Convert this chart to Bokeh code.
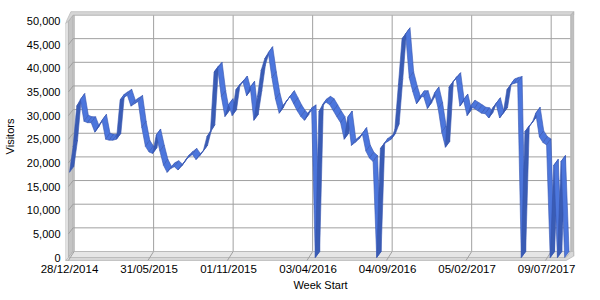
from bokeh.plotting import figure
from bokeh.models import FixedTicker, NumeralTickFormatter, Range1d
from bokeh.embed import file_html
from bokeh.resources import INLINE

# ---- data ----
weeks = list(range(138))
visitors = [
    18000, 23500, 32000, 33400, 28800, 28500, 28500, 26500, 27800, 29000,
    25000, 24800, 24800, 25000, 33300, 33800, 34300, 32000, 32500, 33000,
    27500, 23500, 22300, 22000, 25900, 22500, 19500, 18000, 18800, 19200,
    18500, 19300, 20500, 21200, 21800, 20700, 21500, 22500, 25500, 26800,
    39200, 40000, 34000, 29800, 32300, 30000, 35400, 36200, 37100, 34200,
    36000, 29000, 34000, 39500, 42000, 43300, 38000, 33500, 30500, 32000,
    33000, 34000, 32500, 31000, 29800, 29000, 30500, 31000, 0, 30800,
    32300, 32800, 32300, 31000, 29700, 28500, 25000, 29700, 23700, 24300,
    25000, 26200, 22500, 21000, 20300, 0, 23000, 24000, 24500, 25000,
    27000, 36500, 46200, 47300, 38000, 35000, 32500, 34000, 34000, 31500,
    33000, 34800, 31500, 26500, 23300, 36000, 37000, 37800, 32000, 33300,
    30000, 32000, 31500, 31000, 30500, 30400, 29500, 31500, 32500, 29500,
    30500, 35400, 36500, 36800, 37000, 0, 26600, 27500, 28500, 30500,
    25500, 24300, 23800, 0, 19500, 0, 20300, 0,
]
x_tick_weeks = [0, 22, 44, 66, 88, 110, 132]
x_tick_labels = ["28/12/2014", "31/05/2015", "01/11/2015", "03/04/2016",
                 "04/09/2016", "05/02/2017", "09/07/2017"]
y_ticks = list(range(0, 50001, 5000))

# ---- geometry (data units) ----
PXW = 3.614          # px per week
PXV = 0.00473        # px per visitor
DW, DV = 4.6 / PXW, 6.0 / PXV      # depth offset of back wall
RW, RV = 4.4 / PXW, 6.0 / PXV      # depth of ribbon
WL, WR = -0.28, 137.4              # front left / right of plot
VTOP = 50000

p = figure(width=600, height=300, output_backend="svg", toolbar_location=None,
           x_range=Range1d(-1.107, 140.0), y_range=Range1d(-1057, 52220),
           min_border_left=65, min_border_right=25, min_border_top=10,
           min_border_bottom=38)
p.outline_line_color = None
p.xgrid.visible = False
p.ygrid.visible = False
p.background_fill_color = "white"
p.border_fill_color = "white"

# back wall
p.patch([WL + DW, WR + DW, WR + DW, WL + DW],
        [DV, DV, VTOP + DV, VTOP + DV], fill_color="white", line_color=None)
p.multi_line([[WL + DW, WR + DW] for _ in y_ticks],
             [[t + DV, t + DV] for t in y_ticks], line_color="#a0a0a0", line_width=1)
# left side wall
p.patch([WL, WL, WL + DW, WL + DW], [0, VTOP, VTOP + DV, DV],
        fill_color="#c4c4c4", line_color="#a8a8a8", line_width=0.8)
p.patch([WL - 0.83, WL - 0.83, WL, WL], [-630, VTOP - 500, VTOP, -630],
        fill_color="#e2e2e2", line_color="#b0b0b0", line_width=0.8)
p.multi_line([[WL, WL + DW] for _ in y_ticks],
             [[t, t + DV] for t in y_ticks], line_color="#a0a0a0", line_width=1)
# vertical gridlines
p.multi_line([[t + DW, t + DW] for t in x_tick_weeks],
             [[DV, VTOP + DV] for _ in x_tick_weeks], line_color="#a0a0a0", line_width=1)
# top edge and right edge of back wall
p.patch([WL - 0.83, WL + DW - 0.6, WR + DW + 0.83, WR + DW + 0.83, WL + DW, WL],
        [VTOP - 500, VTOP + DV + 700, VTOP + DV + 700, VTOP + DV, VTOP + DV, VTOP],
        fill_color="#d6d6d6", line_color="#bdbdbd", line_width=0.8)
p.patch([WR + DW, WR + DW + 0.83, WR + DW + 0.83, WR + DW],
        [DV, 300, VTOP + DV + 700, VTOP + DV],
        fill_color="#c0c0c0", line_color="#b0b0b0", line_width=0.8)
# floor
p.patch([WL, WR, WR + DW, WL + DW], [0, 0, DV, DV],
        fill_color="#e6e6e6", line_color="#b8b8b8", line_width=0.8)
p.patch([WL - 0.83, WR, WR + DW + 0.83, WR + DW + 0.83, WR + DW, WR, WL],
        [-630, -630, 300, DV, DV, 0, 0],
        fill_color="#d8d8d8", line_color="#b8b8b8", line_width=0.8)
p.multi_line([[t - 0.3, t + DW] for t in x_tick_weeks],
             [[-630, DV] for _ in x_tick_weeks], line_color="#a0a0a0", line_width=1)

# ribbon
xs, ys, cols = [], [], []
for i in range(len(weeks) - 1):
    w0, w1 = weeks[i], weeks[i + 1]
    v0, v1 = visitors[i], visitors[i + 1]
    xs.append([w0, w1, w1 + RW, w0 + RW])
    ys.append([v0, v1, v1 + RV, v0 + RV])
    cross = 6.0 * (w1 - w0) * PXW - 4.4 * (v1 - v0) * PXV
    cols.append("#4c76dc" if cross > 0 else "#3a5cb4")
p.patches(xs, ys, fill_color=cols, line_color="#3756b0", line_width=0.6)

# axes
font = "Liberation Sans"
p.yaxis.ticker = FixedTicker(ticks=y_ticks)
p.yaxis.formatter = NumeralTickFormatter(format="0,0")
p.xaxis.ticker = FixedTicker(ticks=x_tick_weeks)
p.xaxis.major_label_overrides = {w: s for w, s in zip(x_tick_weeks, x_tick_labels)}
for ax in (p.xaxis, p.yaxis):
    ax.axis_line_color = None
    ax.major_tick_line_color = None
    ax.minor_tick_line_color = None
    ax.major_tick_out = 0
    ax.major_tick_in = 0
    ax.minor_tick_out = 0
    ax.major_label_text_font = font
    ax.major_label_text_color = "black"
    ax.axis_label_text_font = font
    ax.axis_label_text_font_style = "normal"
    ax.axis_label_text_font_size = "11px"
    ax.axis_label_text_color = "black"
p.yaxis.major_label_text_font_size = "11px"
p.xaxis.major_label_text_font_size = "11.5px"
p.yaxis.major_label_standoff = 5
p.xaxis.major_label_standoff = 0
p.xaxis.axis_label = "Week Start"
p.yaxis.axis_label = "Visitors"
p.xaxis.axis_label_standoff = 1
p.yaxis.axis_label_standoff = 8

open("out.html", "w").write(file_html(p, INLINE))
